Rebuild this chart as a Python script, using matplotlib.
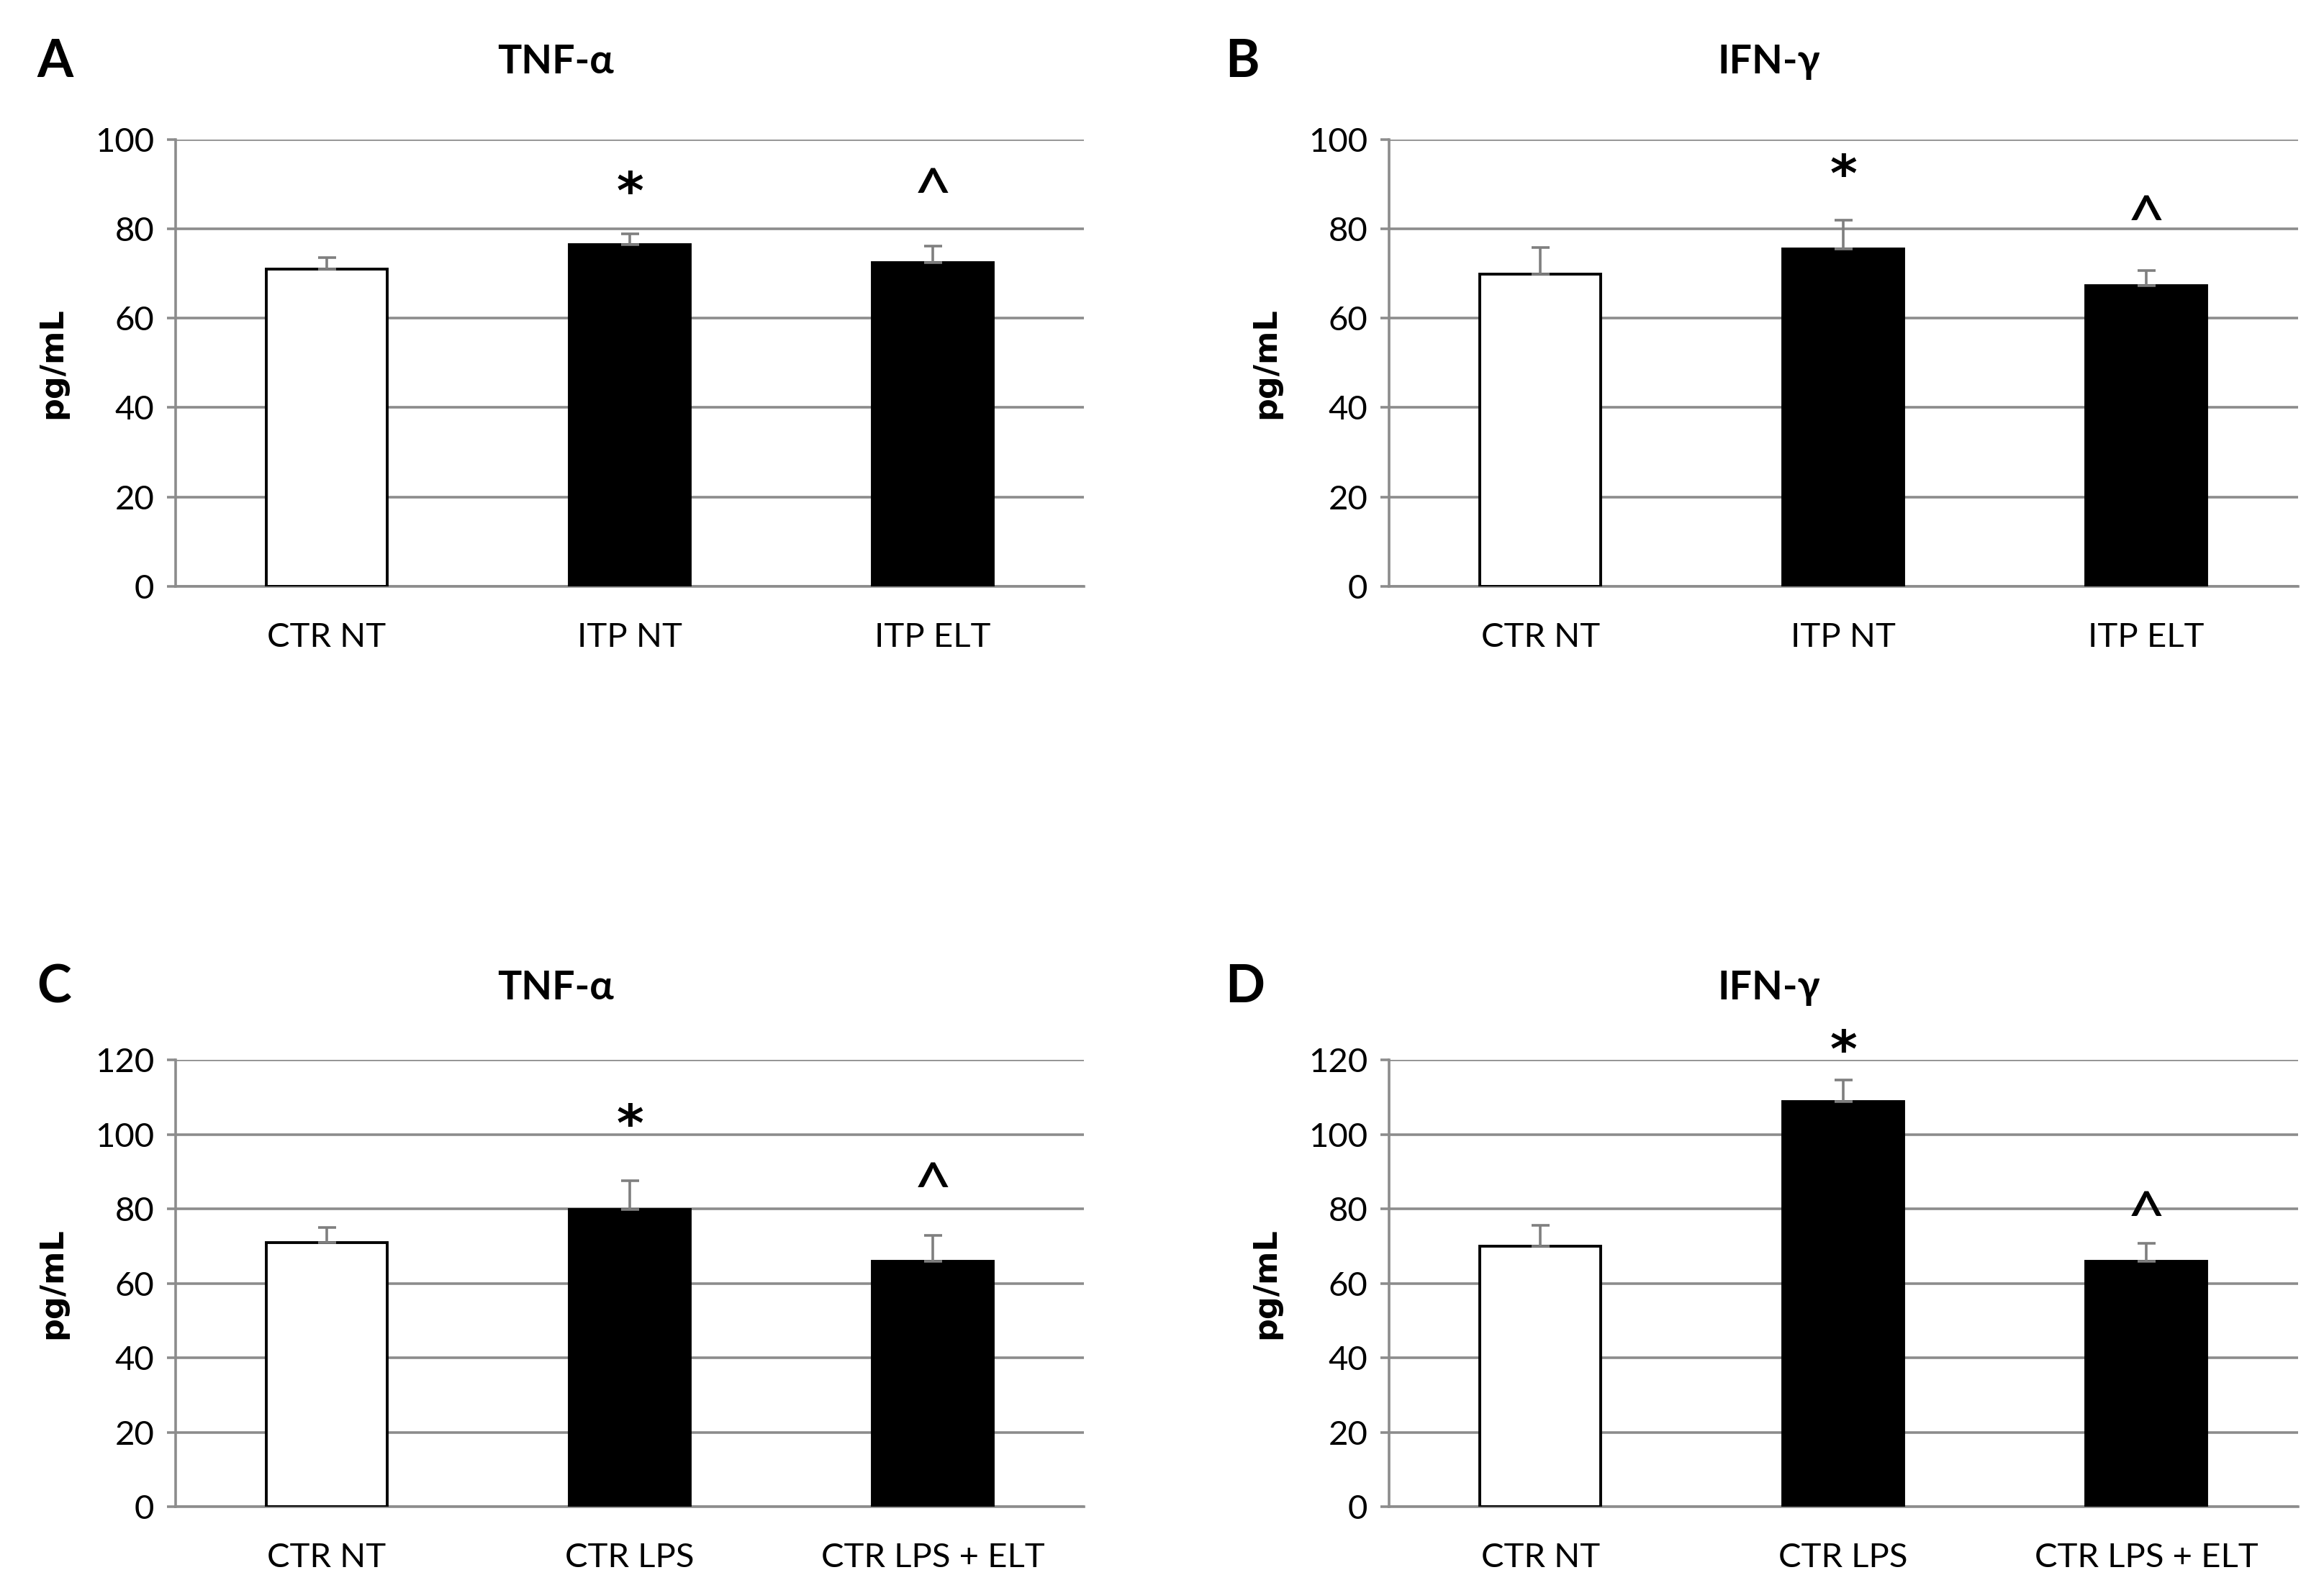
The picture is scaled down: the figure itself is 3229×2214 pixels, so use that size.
import matplotlib.pyplot as plt
from matplotlib.transforms import offset_copy

plt.rcParams['font.family'] = ['Lato', 'DejaVu Sans']

# panel data
groups_top = ['CTR NT', 'ITP NT', 'ITP ELT']
groups_bottom = ['CTR NT', 'CTR LPS', 'CTR LPS + ELT']

tnf_itp = [71.0, 76.5, 72.5]
tnf_itp_err = [2.5, 2.3, 3.6]
ifn_itp = [69.8, 75.5, 67.2]
ifn_itp_err = [6.0, 6.5, 3.4]
tnf_lps = [71.0, 79.9, 66.0]
tnf_lps_err = [4.0, 7.7, 6.9]
ifn_lps = [70.0, 108.9, 66.0]
ifn_lps_err = [5.7, 5.8, 4.9]

# significance marks: (category index, y position, symbol)
marks_a = [(1, 90.7, '*'), (2, 91.2, '^')]
marks_b = [(1, 94.5, '*'), (2, 85.0, '^')]
marks_c = [(1, 105.6, '*'), (2, 89.6, '^')]
marks_d = [(1, 125.6, '*'), (2, 82.0, '^')]

bar_colors = ['white', 'black', 'black']
grid_col = '#8c8c8c'

fig = plt.figure(figsize=(16.15, 11.07), dpi=200)

panels = [
    ([0.0754, 0.632, 0.391, 0.2805], groups_top, tnf_itp, tnf_itp_err, marks_a, 100, 'A', 'TNF-α', 0.016),
    ([0.5974, 0.632, 0.391, 0.2805], groups_top, ifn_itp, ifn_itp_err, marks_b, 100, 'B', 'IFN-γ', 0.527),
    ([0.0754, 0.054, 0.391, 0.2805], groups_bottom, tnf_lps, tnf_lps_err, marks_c, 120, 'C', 'TNF-α', 0.016),
    ([0.5974, 0.054, 0.391, 0.2805], groups_bottom, ifn_lps, ifn_lps_err, marks_d, 120, 'D', 'IFN-γ', 0.527),
]

for rect, groups, vals, errs, marks, ymax, letter, title, letter_x in panels:
    ax = fig.add_axes(rect)
    x = range(len(groups))
    ax.bar(x, vals, width=0.4, color=bar_colors, edgecolor='black', linewidth=1.4, zorder=3)
    ax.errorbar(x, vals, yerr=[[0] * len(errs), errs], fmt='none', ecolor='#7f7f7f',
                elinewidth=1.3, capsize=4.5, capthick=1.3, zorder=4)

    for i, y, s in marks:
        if s == '*':
            fs, fam, wt, k = 26, 'DejaVu Sans', 'bold', 0.26
        else:
            fs, fam, wt, k = 34, 'Lato', 'normal', 0.27
        # shift down so the glyph itself is centred on y
        tr = offset_copy(ax.transData, fig=fig, y=-k * fs, units='points')
        ax.text(i, y, s, ha='center', va='center', fontsize=fs, family=fam,
                fontweight=wt, transform=tr, clip_on=False)

    ax.set_xlim(-0.5, 2.5)
    ax.set_ylim(0, ymax)
    ax.set_yticks(range(0, ymax + 1, 20))
    ax.set_xticks(list(x))
    ax.set_xticklabels(groups)
    ax.yaxis.grid(True, color=grid_col, linewidth=1.3, zorder=0)
    ax.set_axisbelow(True)
    for side in ['top', 'right']:
        ax.spines[side].set_visible(False)
    ax.spines['left'].set_color(grid_col)
    ax.spines['bottom'].set_color(grid_col)
    ax.spines['left'].set_linewidth(1.3)
    ax.spines['bottom'].set_linewidth(1.3)
    ax.tick_params(axis='y', direction='out', length=4.5, width=1.3, color=grid_col,
                   labelsize=17, pad=6)
    ax.tick_params(axis='x', length=0, labelsize=17, pad=18)
    ax.set_ylabel('pg/mL', fontsize=16, fontweight='bold', family='DejaVu Sans')
    ax.yaxis.set_label_coords(-0.118, 0.5)

    pos = ax.get_position()
    top_y = 0.961 if pos.y0 > 0.5 else 0.380
    fig.text(pos.x0 + 0.1635, top_y, title, ha='center', va='center',
             fontsize=20, fontweight='bold')
    fig.text(letter_x, top_y, letter, ha='left', va='center',
             fontsize=26, fontweight='bold')

plt.savefig('out.png', dpi=200)
